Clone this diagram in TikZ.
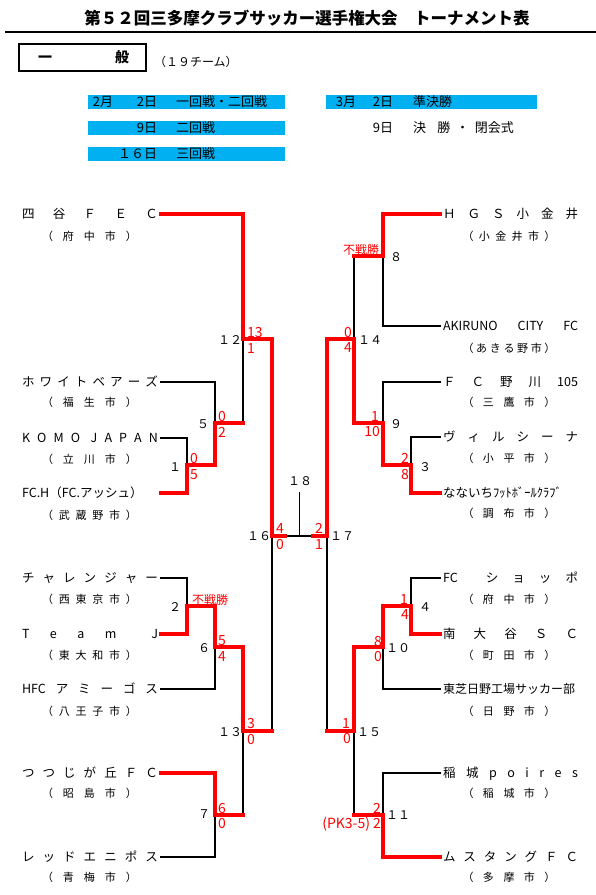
\documentclass[tikz,border=0pt]{standalone}
\usepackage{fontspec}
\setmainfont{Noto Sans CJK JP}
\definecolor{barblue}{HTML}{00B0F0}
\def\sprloop#1{\ifx\relax#1\else\hfill#1\expandafter\sprloop\fi}
\def\sprfirst#1{#1\sprloop}
\newcommand{\spr}[1]{\sprfirst#1\relax}
\newcommand{\lname}[1]{\makebox[136pt][s]{#1}}
\newcommand{\rname}[1]{\makebox[135pt][s]{#1}}
\newcommand{\lcity}[1]{\makebox[95pt][s]{\spr{#1}}}
\newcommand{\rcity}[1]{\makebox[93pt][s]{\spr{#1}}}
\begin{document}
\begin{tikzpicture}[x=1pt, y=-1pt,
 every node/.style={inner sep=0pt, outer sep=0pt},
 ttl/.style={font=\bfseries\fontsize{16.5}{17}\selectfont, text height=14.5pt, text depth=2pt},
 catt/.style={font=\bfseries\fontsize{14}{14}\selectfont, text height=12.3pt, text depth=1.7pt},
 note/.style={font=\fontsize{12}{12}\selectfont, text height=10.5pt, text depth=1.5pt},
 bluebar/.style={fill=barblue, minimum height=13.5pt, anchor=north west},
 btxt/.style={font=\fontsize{13}{13}\selectfont, text height=11.4pt, text depth=1.6pt},
 tname/.style={font=\fontsize{12.5}{13}\selectfont, text height=11pt, text depth=1.5pt, outer sep=3pt},
 city/.style={font=\fontsize{11}{11}\selectfont, text height=9.7pt, text depth=1.3pt},
 jlab/.style={font=\fontsize{12}{12}\selectfont, text height=10.5pt, text depth=1.5pt},
 score/.style={font=\fontsize{14}{14}\selectfont, text=red, text height=10pt, text depth=0pt},
 fsen/.style={font=\fontsize{12}{12}\selectfont, text=red, text height=10.5pt, text depth=1.5pt},
 win/.style={draw=red, line width=4pt, line cap=rect, line join=miter},
 lose/.style={draw=black, line width=1.7pt, line cap=rect},
]
\useasboundingbox (0,0) rectangle (596,895);
\fill[white] (0,0) rectangle (596,895);

% ---- header ----
\node[ttl] (title) at (307,18) {第５２回三多摩クラブサッカー選手権大会　トーナメント表};
\coordinate (hl0) at (5,32);
\coordinate (hl1) at (596,32);
\draw[line width=2pt] (hl0) -- (hl1);

\node[draw, line width=1.2pt, minimum width=127pt, minimum height=27pt, anchor=north west] (cat) at (19,44) {};
\node[catt] (cat1) at (45,57.5) {一};
\node[catt] (cat2) at (122,57.5) {般};
\node[note, anchor=west] (cnt) at (154,62) {（１９チーム）};

\node[bluebar, minimum width=197pt] (bar1) at (88,95) {};
\node[bluebar, minimum width=197pt] (bar2) at (88,121) {};
\node[bluebar, minimum width=197pt] (bar3) at (88,147) {};
\node[bluebar, minimum width=211pt] (bar4) at (326,95) {};

\node[btxt, anchor=east] (d1a) at (113,101.5) {2月};
\node[btxt, anchor=east] (d1b) at (157,101.5) {2日};
\node[btxt, anchor=west] (d1c) at (176,101.5) {一回戦・二回戦};
\node[btxt, anchor=east] (d2b) at (157,127.5) {9日};
\node[btxt, anchor=west] (d2c) at (176,127.5) {二回戦};
\node[btxt, anchor=east] (d3b) at (157,153.5) {１６日};
\node[btxt, anchor=west] (d3c) at (176,153.5) {三回戦};
\node[btxt, anchor=east] (d4a) at (356,101.5) {3月};
\node[btxt, anchor=east] (d4b) at (393,101.5) {2日};
\node[btxt, anchor=west] (d4c) at (413,101.5) {準決勝};
\node[btxt, anchor=east] (d5b) at (393,128) {9日};
\node[btxt, anchor=west] (d5c) at (413,128) {\makebox[101pt][s]{決\hfill\hfill 勝\hfill ・\hfill 閉会式}};

% ---- left teams ----
\node[tname, anchor=east] (n1) at (161,214) {\lname{\spr{四谷ＦＥＣ}}};
\node[tname, anchor=east] (n2) at (161,382) {\lname{\spr{ホワイトベアーズ}}};
\node[tname, anchor=east] (n3) at (161,438) {\lname{K\hfill O\hfill M\hfill O\hspace{0pt plus 1.5fill}J\hfill A\hfill P\hfill A\hfill N}};
\node[tname, anchor=east] (n4) at (161,493) {\makebox[136pt][l]{FC.H（FC.アッシュ）}};
\node[tname, anchor=east] (n5) at (161,578) {\lname{\spr{チャレンジャー}}};
\node[tname, anchor=east] (n6) at (161,634) {\lname{T\hfill e\hfill a\hfill m\hspace{0pt plus 1.7fill}J}};
\node[tname, anchor=east] (n7) at (161,689) {\lname{HFC\hfill ア\hfill ミ\hfill ー\hfill ゴ\hfill ス}};
\node[tname, anchor=east] (n8) at (161,773) {\lname{\spr{つつじが丘ＦＣ}}};
\node[tname, anchor=east] (n9) at (161,857) {\lname{\spr{レッドエニポス}}};

\node[city] (c1) at (89.5,236) {\lcity{（府中市）}};
\node[city] (c2) at (89.5,402) {\lcity{（福生市）}};
\node[city] (c3) at (89.5,459) {\lcity{（立川市）}};
\node[city] (c4) at (89.5,515) {\lcity{（武蔵野市）}};
\node[city] (c5) at (89.5,599) {\lcity{（西東京市）}};
\node[city] (c6) at (89.5,655) {\lcity{（東大和市）}};
\node[city] (c7) at (89.5,711) {\lcity{（八王子市）}};
\node[city] (c8) at (89.5,793) {\lcity{（昭島市）}};
\node[city] (c9) at (89.5,877) {\lcity{（青梅市）}};

% ---- right teams ----
\node[tname, anchor=west] (r1) at (440,214) {\rname{\spr{ＨＧＳ小金井}}};
\node[tname, anchor=west] (r2) at (440,326) {\rname{AKIRUNO\hfill CITY\hfill FC}};
\node[tname, anchor=west] (r3) at (440,382) {\rname{Ｆ\hfill Ｃ\hfill 野\hfill 川\hfill 105}};
\node[tname, anchor=west] (r4) at (440,437) {\rname{\spr{ヴィルシーナ}}};
\node[tname, anchor=west] (r5) at (440,493) {\makebox[135pt][l]{なないちﾌｯﾄﾎﾞｰﾙｸﾗﾌﾞ}};
\node[tname, anchor=west] (r6) at (440,578) {\rname{FC\hspace{0pt plus 2fill}シ\hfill ョ\hfill ッ\hfill ポ}};
\node[tname, anchor=west] (r7) at (440,634) {\rname{\spr{南大谷ＳＣ}}};
\node[tname, anchor=west, font=\fontsize{12}{12}\selectfont] (r8) at (440,689) {\makebox[135pt][l]{東芝日野工場サッカー部}};
\node[tname, anchor=west] (r9) at (440,773) {\rname{\spr{稲城poires}}};
\node[tname, anchor=west] (r10) at (440,857) {\rname{\spr{ムスタングＦＣ}}};

\node[city] (q1) at (509,236) {\rcity{（小金井市）}};
\node[city] (q2) at (509,348) {\rcity{（あきる野市）}};
\node[city] (q3) at (509,402) {\rcity{（三鷹市）}};
\node[city] (q4) at (509,458) {\rcity{（小平市）}};
\node[city] (q5) at (509,513) {\rcity{（調布市）}};
\node[city] (q6) at (509,599) {\rcity{（府中市）}};
\node[city] (q7) at (509,655) {\rcity{（町田市）}};
\node[city] (q8) at (509,711) {\rcity{（日野市）}};
\node[city] (q9) at (509,793) {\rcity{（稲城市）}};
\node[city] (q10) at (509,877) {\rcity{（多摩市）}};

% ---- junctions ----
\coordinate (m1) at (187,465);
\coordinate (m2) at (187,606);
\coordinate (m3) at (411,465);
\coordinate (m4) at (411,606);
\coordinate (m5) at (215,423);
\coordinate (m6) at (215,647);
\coordinate (m7) at (215,815);
\coordinate (m8) at (383,256);
\coordinate (m9) at (383,423);
\coordinate (m10) at (383,647);
\coordinate (m11) at (383,815);
\coordinate (m12) at (243,339);
\coordinate (m13) at (243,731);
\coordinate (m14) at (354,339);
\coordinate (m15) at (354,731);
\coordinate (m16) at (272,536);
\coordinate (m17) at (327,536);
\coordinate (m18) at (299.5,536);
\coordinate (fL) at (285,536);
\coordinate (fR) at (313,536);
\coordinate (s18) at (299.5,493);

% ---- losing / undecided lines ----
\draw[lose] (n2.east) -| (m5);
\draw[lose] (n3.east) -| (m1);
\draw[lose] (m5 -| m12) -- (m12);
\draw[lose] (n5.east) -| (m2);
\draw[lose] (n7.east) -| (m6);
\draw[lose] (n9.east) -| (m7);
\draw[lose] (m7 -| m13) -- (m13);
\draw[lose] (m13 -| m16) -- (m16);
\draw[lose] (fL) -- (fR);
\draw[lose] (m18) -- (s18);
\draw[lose] (r2.west) -| (m8);
\draw[lose] (m8 -| m14) -- (m14);
\draw[lose] (r3.west) -| (m9);
\draw[lose] (r4.west) -| (m3);
\draw[lose] (r6.west) -| (m4);
\draw[lose] (r8.west) -| (m10);
\draw[lose] (r9.west) -| (m11);
\draw[lose] (m11 -| m15) -- (m15);
\draw[lose] (m15 -| m17) -- (m17);

% ---- winning lines ----
\draw[win] (n1.east) -| (m12);
\draw[win] (n4.east) -| (m1);
\draw[win] (m1) -| (m5);
\draw[win] (m5) -- (m5 -| m12);
\draw[win] (m12) -| (m16);
\draw[win] (n6.east) -| (m2);
\draw[win] (m2) -| (m6);
\draw[win] (m6) -| (m13);
\draw[win] (n8.east) -| (m7);
\draw[win] (m7) -- (m7 -| m13);
\draw[win] (m13) -- (m13 -| m16);
\draw[win] (m16) -- (fL);
\draw[win] (r1.west) -| (m8);
\draw[win] (m8) -- (m8 -| m14);
\draw[win] (r5.west) -| (m3);
\draw[win] (m3) -| (m9);
\draw[win] (m9) -| (m14);
\draw[win] (m14) -| (m17);
\draw[win] (r7.west) -| (m4);
\draw[win] (m4) -| (m10);
\draw[win] (m10) -| (m15);
\draw[win] (r10.west) -| (m11);
\draw[win] (m11) -- (m11 -| m15);
\draw[win] (m15) -- (m15 -| m17);
\draw[win] (m17) -- (fR);

% ---- match numbers ----
\node[jlab, anchor=east] (l12) at (242,340) {１２};
\node[jlab, anchor=east] (l5) at (209,424) {５};
\node[jlab, anchor=east] (l1) at (181,467) {１};
\node[jlab, anchor=east] (l2) at (181,607) {２};
\node[jlab, anchor=east] (l6) at (210,648) {６};
\node[jlab, anchor=east] (l13) at (242,732) {１３};
\node[jlab, anchor=east] (l7) at (210,814) {７};
\node[jlab, anchor=east] (l16) at (271,536) {１６};
\node[jlab] (l18) at (300,481) {１８};
\node[jlab, anchor=west] (l14) at (358,340) {１４};
\node[jlab, anchor=west] (l8) at (390,257) {８};
\node[jlab, anchor=west] (l9) at (390,424) {９};
\node[jlab, anchor=west] (l3) at (419,467) {３};
\node[jlab, anchor=west] (l17) at (330,536) {１７};
\node[jlab, anchor=west] (l4) at (419,607) {４};
\node[jlab, anchor=west] (l10) at (386,648) {１０};
\node[jlab, anchor=west] (l15) at (357,732) {１５};
\node[jlab, anchor=west] (l11) at (386,815) {１１};

% ---- scores ----
\node[score, anchor=west] (s12a) at (247,332) {13};
\node[score, anchor=west] (s12b) at (247,348) {1};
\node[score, anchor=west] (s5a) at (218,416) {0};
\node[score, anchor=west] (s5b) at (218,432) {2};
\node[score, anchor=west] (s1a) at (190,458) {0};
\node[score, anchor=west] (s1b) at (190,474) {5};
\node[fsen, anchor=west] (w2) at (192,600) {不戦勝};
\node[score, anchor=west] (s6a) at (218,640) {5};
\node[score, anchor=west] (s6b) at (218,656) {4};
\node[score, anchor=west] (s13a) at (247,723) {3};
\node[score, anchor=west] (s13b) at (247,739) {0};
\node[score, anchor=west] (s7a) at (218,808) {6};
\node[score, anchor=west] (s7b) at (218,823) {0};
\node[score, anchor=west] (s16a) at (276,528) {4};
\node[score, anchor=west] (s16b) at (276,544) {0};
\node[score, anchor=east] (s17a) at (323,528) {2};
\node[score, anchor=east] (s17b) at (323,544) {1};
\node[score, anchor=east] (s14a) at (352,332) {0};
\node[score, anchor=east] (s14b) at (352,347) {4};
\node[fsen, anchor=east] (w8) at (379,250) {不戦勝};
\node[score, anchor=east] (s9a) at (379,416) {1};
\node[score, anchor=east] (s9b) at (380,431) {10};
\node[score, anchor=east] (s3a) at (409,458) {2};
\node[score, anchor=east] (s3b) at (409,474) {8};
\node[score, anchor=east] (s4a) at (408,599) {1};
\node[score, anchor=east] (s4b) at (409,614) {4};
\node[score, anchor=east] (s10a) at (382,641) {8};
\node[score, anchor=east] (s10b) at (382,656) {0};
\node[score, anchor=east] (s15a) at (350,723) {1};
\node[score, anchor=east] (s15b) at (351,738) {0};
\node[score, anchor=east] (s11a) at (381,808) {2};
\node[score, anchor=east] (s11b) at (381,823) {(PK3-5) 2};
\end{tikzpicture}
\end{document}
